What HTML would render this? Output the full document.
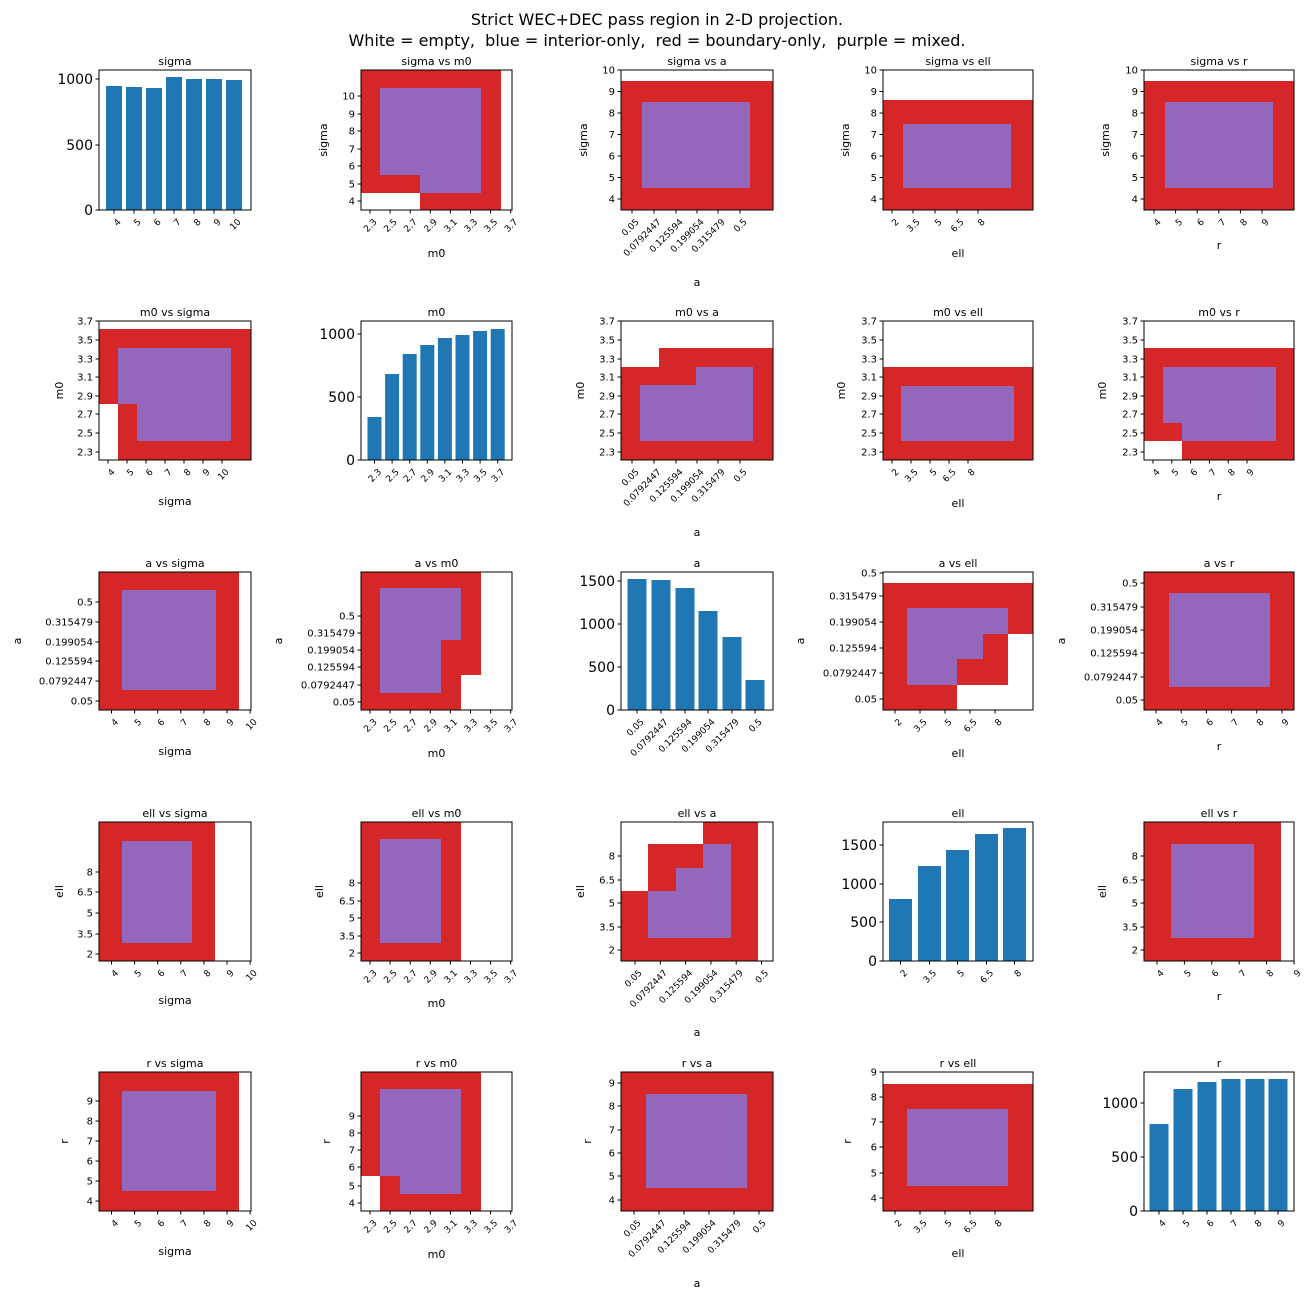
<!DOCTYPE html>
<html><head><meta charset="utf-8"><style>
html,body{margin:0;padding:0;background:#fff;}
svg{display:block;font-family:"DejaVu Sans","Liberation Sans",sans-serif;}
</style></head><body>
<svg id="s" width="1311" height="1300" viewBox="0 0 1311 1300" xmlns="http://www.w3.org/2000/svg">
<rect width="1311" height="1300" fill="#fff"/>
<text x="657" y="25" font-size="16" text-anchor="middle" fill="#000" style="white-space:pre">Strict WEC+DEC pass region in 2-D projection.</text>
<text x="657" y="46" font-size="16" text-anchor="middle" fill="#000" style="white-space:pre">White = empty,  blue = interior-only,  red = boundary-only,  purple = mixed.</text>
</svg>
<script>
var R='#d62728',P='#9467bd',W='#fff',B='#1f77b4';
var s=document.getElementById('s');
var out='';
function rng(a,st,n){var r=[];for(var i=0;i<n;i++)r.push(a+st*i);return r;}
function zip(p,l){return p.map(function(v,i){return [v,l[i]];});}
var SIG=['4','5','6','7','8','9','10'],M0=['2.3','2.5','2.7','2.9','3.1','3.3','3.5','3.7'],
A=['0.05','0.0792447','0.125594','0.199054','0.315479','0.5'],ELL=['2','3.5','5','6.5','8'],RR=['4','5','6','7','8','9'];
var xs1=[99,251],xs2=[361,512],xs3=[621,773],xs4=[883,1033],xs5=[1144,1294];
var C={
 sigM0:zip(rng(370,20.1,8),M0), sigA:zip([632,654,676,697,718,740],A), sigEll:zip([892,913,935,957,978],ELL), sigR:zip(rng(1154,21.6,6),RR),
 sig7a:zip(rng(108,19,7),SIG), sig7b:zip(rng(111.5,23.1,7),SIG)
};
var SY=zip(rng(70,21.5,7),['10','9','8','7','6','5','4']);
var P_=[
{b:[xs1[0],70,xs1[1],210],t:'sigma',bars:{c:rng(114,20,7),w:16,top:[86,87,88,77,79,79,80]},yt:[[210,'0'],[145,'500'],[79,'1000']],xt:zip(rng(114,20,7),SIG)},
{b:[xs2[0],70,xs2[1],210],t:'sigma vs m0',r:[[361,70,501,210,R],[361,193,420,210,W],[380,88,481,175,P],[420,175,481,193,P]],xt:C.sigM0,yt:zip([96,114,131,149,166,184,201],['10','9','8','7','6','5','4']),xl:['m0',253],yl:['sigma',323]},
{b:[xs3[0],70,xs3[1],210],t:'sigma vs a',r:[[621,81,773,210,R],[642,102,750,188,P]],xt:C.sigA,yt:SY,xl:['a',282],yl:['sigma',583]},
{b:[xs4[0],70,xs4[1],210],t:'sigma vs ell',r:[[883,100,1033,210,R],[903,124,1011,188,P]],xt:C.sigEll,yt:SY,xl:['ell',253],yl:['sigma',845]},
{b:[xs5[0],70,xs5[1],210],t:'sigma vs r',r:[[1144,81,1294,210,R],[1165,102,1273,188,P]],xt:C.sigR,yt:SY,xl:['r',245],yl:['sigma',1105]},
{b:[xs1[0],321,xs1[1],460],t:'m0 vs sigma',r:[[99,329,251,460,R],[99,404,118,460,W],[118,348,231,404,P],[137,404,231,441,P]],xt:C.sig7a,yt:zip([321,340,359,377,396,414,433,452],['3.7','3.5','3.3','3.1','2.9','2.7','2.5','2.3']),xl:['sigma',501],yl:['m0',59]},
{b:[xs2[0],321,xs2[1],460],t:'m0',bars:{c:rng(374.5,17.6,8),w:14,top:[417,374,354,345,338,335,331,329]},yt:[[460,'0'],[397,'500'],[334,'1000']],xt:zip(rng(374.5,17.6,8),M0)},
{b:[xs3[0],321,xs3[1],460],t:'m0 vs a',r:[[659,348,773,367,R],[621,367,773,460,R],[640,385,753,441,P],[696,367,753,385,P]],xt:C.sigA,yt:zip([321,340,359,377,396,414,433,452],['3.7','3.5','3.3','3.1','2.9','2.7','2.5','2.3']),xl:['a',532],yl:['m0',580]},
{b:[xs4[0],321,xs4[1],460],t:'m0 vs ell',r:[[883,367,1033,460,R],[901,386,1014,441,P]],xt:zip([892,911,930,949,968],ELL),yt:zip([321,340,359,377,396,414,433,452],['3.7','3.5','3.3','3.1','2.9','2.7','2.5','2.3']),xl:['ell',503],yl:['m0',841]},
{b:[xs5[0],321,xs5[1],460],t:'m0 vs r',r:[[1144,348,1294,460,R],[1144,441,1182,460,W],[1163,367,1276,423,P],[1182,423,1276,441,P]],xt:zip(rng(1153,18.8,6),RR),yt:zip([321,340,359,377,396,414,433,452],['3.7','3.5','3.3','3.1','2.9','2.7','2.5','2.3']),xl:['r',496],yl:['m0',1102]},
{b:[xs1[0],572,xs1[1],710],t:'a vs sigma',r:[[99,572,239,710,R],[122,590,216,690,P]],xt:C.sig7b,yt:zip([602,622,642,661,681,701],A.slice().reverse()),xl:['sigma',751],yl:['a',17]},
{b:[xs2[0],572,xs2[1],710],t:'a vs m0',r:[[361,572,481,675,R],[361,675,461,710,R],[380,588,461,640,P],[380,640,441,693,P]],xt:C.sigM0,yt:zip([616,633,650,667,685,702],A.slice().reverse()),xl:['m0',753],yl:['a',278]},
{b:[xs3[0],572,xs3[1],710],t:'a',bars:{c:[637,661,685,708,732,755],w:19,top:[579,580,588,611,637,680]},yt:[[710,'0'],[667,'500'],[624,'1000'],[581,'1500']],xt:zip([637,661,685,708,732,755],A)},
{b:[xs4[0],572,xs4[1],710],t:'a vs ell',r:[[883,583,1033,634,R],[883,634,1008,685,R],[883,685,957,710,R],[907,608,1008,634,P],[907,634,983,659,P],[907,659,957,685,P]],xt:zip([895,920,945,970,995],ELL),yt:zip([573,596,622,648,673,699],A.slice().reverse()),xl:['ell',753],yl:['a',800]},
{b:[xs5[0],572,xs5[1],710],t:'a vs r',r:[[1144,572,1294,710,R],[1169,593,1270,687,P]],xt:zip(rng(1156,25.2,6),RR),yt:zip([583,607,630,653,677,700],A.slice().reverse()),xl:['r',746],yl:['a',1061]},
{b:[xs1[0],822,xs1[1],961],t:'ell vs sigma',r:[[99,822,215,961,R],[122,841,192,943,P]],xt:C.sig7b,yt:zip([872,892,913,934,954],['8','6.5','5','3.5','2']),xl:['sigma',1000],yl:['ell',59]},
{b:[xs2[0],822,xs2[1],961],t:'ell vs m0',r:[[361,822,461,961,R],[380,839,441,943,P]],xt:C.sigM0,yt:zip([883,901,918,936,953],['8','6.5','5','3.5','2']),xl:['m0',1003],yl:['ell',319]},
{b:[xs3[0],822,xs3[1],961],t:'ell vs a',r:[[621,822,758,961,R],[621,822,648,891,W],[648,822,703,844,W],[648,891,731,938,P],[676,868,731,891,P],[703,844,731,868,P]],xt:zip(rng(635,25.3,6),A),yt:zip([856,880,903,927,950],['8','6.5','5','3.5','2']),xl:['a',1032],yl:['ell',580]},
{b:[xs4[0],822,xs4[1],961],t:'ell',bars:{c:[900.5,929.5,957.5,986.5,1014.5],w:23,top:[899,866,850,834,828]},yt:[[961,'0'],[922,'500'],[884,'1000'],[845,'1500']],xt:zip([900.5,929.5,957.5,986.5,1014.5],ELL)},
{b:[xs5[0],822,xs5[1],961],t:'ell vs r',r:[[1144,822,1281,961,R],[1171,844,1254,938,P]],xt:zip(rng(1157,27.4,6),RR),yt:zip([856,880,903,927,950],['8','6.5','5','3.5','2']),xl:['r',996],yl:['ell',1102]},
{b:[xs1[0],1072,xs1[1],1211],t:'r vs sigma',r:[[99,1072,239,1211,R],[122,1091,216,1191,P]],xt:C.sig7b,yt:zip([1101,1121,1141,1161,1181,1201],['9','8','7','6','5','4']),xl:['sigma',1251],yl:['r',64]},
{b:[xs2[0],1072,xs2[1],1211],t:'r vs m0',r:[[361,1072,481,1211,R],[361,1176,380,1211,W],[380,1089,461,1176,P],[400,1176,461,1194,P]],xt:C.sigM0,yt:zip([1116,1133,1150,1167,1186,1203],['9','8','7','6','5','4']),xl:['m0',1254],yl:['r',326]},
{b:[xs3[0],1072,xs3[1],1211],t:'r vs a',r:[[621,1072,773,1211,R],[646,1094,747,1188,P]],xt:zip(rng(634,25,6),A),yt:zip([1083,1106,1130,1153,1176,1200],['9','8','7','6','5','4']),xl:['a',1283],yl:['r',587]},
{b:[xs4[0],1072,xs4[1],1211],t:'r vs ell',r:[[883,1084,1033,1211,R],[907,1109,1008,1186,P]],xt:zip([895,920,945,970,995],ELL),yt:zip([1072,1097,1122,1147,1173,1198],['9','8','7','6','5','4']),xl:['ell',1253],yl:['r',847]},
{b:[xs5[0],1072,xs5[1],1211],t:'r',bars:{c:[1159,1183,1207,1231,1255,1278],w:19,top:[1124,1089,1082,1079,1079,1079]},yt:[[1211,'0'],[1157,'500'],[1103,'1000']],xt:zip([1159,1183,1207,1231,1255,1278],RR)}
];
P_.forEach(function(p){
 var b=p.b,x0=b[0],y0=b[1],x1=b[2],y1=b[3];
 out+='<text x="'+((x0+x1)/2)+'" y="'+(y0-5)+'" font-size="11" text-anchor="middle">'+p.t+'</text>';
 if(p.r)p.r.forEach(function(r){out+='<rect x="'+r[0]+'" y="'+r[1]+'" width="'+(r[2]-r[0])+'" height="'+(r[3]-r[1])+'" fill="'+r[4]+'"/>';});
 if(p.bars){p.bars.c.forEach(function(c,i){var t=p.bars.top[i];out+='<rect x="'+(c-p.bars.w/2)+'" y="'+t+'" width="'+p.bars.w+'" height="'+(y1-t)+'" fill="'+B+'"/>';});}
 out+='<rect x="'+x0+'" y="'+y0+'" width="'+(x1-x0)+'" height="'+(y1-y0)+'" fill="none" stroke="#000" stroke-width="1"/>';
 var fs=p.bars?14:10;
 p.yt.forEach(function(t){out+='<line x1="'+(x0-3.5)+'" x2="'+x0+'" y1="'+t[0]+'" y2="'+t[0]+'" stroke="#000"/>';
  out+='<text x="'+(x0-6)+'" y="'+t[0]+'" dy="0.35em" font-size="'+fs+'" text-anchor="end">'+t[1]+'</text>';});
 p.xt.forEach(function(t){out+='<line x1="'+t[0]+'" x2="'+t[0]+'" y1="'+y1+'" y2="'+(y1+3.5)+'" stroke="#000"/>';
  var ax=t[0]+3,ay=y1+8;
  out+='<text x="'+ax+'" y="'+ay+'" dy="0.7em" font-size="9" text-anchor="end" transform="rotate(-45 '+ax+' '+ay+')">'+t[1]+'</text>';});
 if(p.xl)out+='<text x="'+((x0+x1)/2)+'" y="'+(p.xl[1]+4)+'" font-size="11" text-anchor="middle">'+p.xl[0]+'</text>';
 if(p.yl){var yc=(y0+y1)/2;out+='<text x="'+(p.yl[1]+4)+'" y="'+yc+'" font-size="11" text-anchor="middle" transform="rotate(-90 '+(p.yl[1]+4)+' '+yc+')">'+p.yl[0]+'</text>';}
});
s.insertAdjacentHTML('beforeend',out);
</script>
</body></html>
